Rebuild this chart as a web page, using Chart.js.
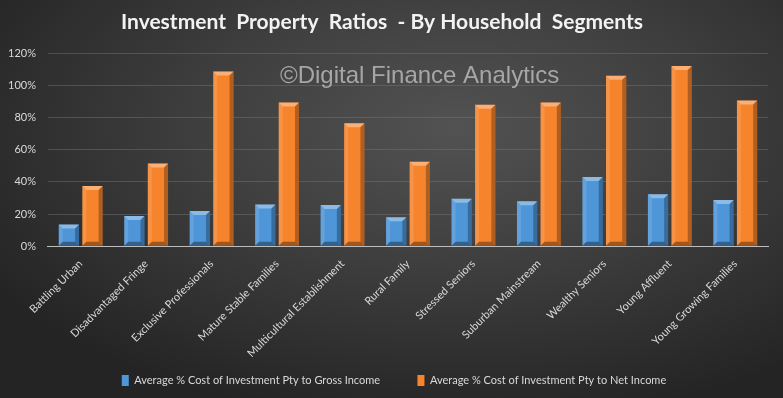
<!DOCTYPE html>
<html>
<head>
<meta charset="utf-8">
<script src="https://cdn.jsdelivr.net/npm/chart.js@4.4.0/dist/chart.umd.min.js"></script>
<style>
  html, body { margin: 0; padding: 0; }
  body {
    width: 783px; height: 398px; overflow: hidden;
    background: radial-gradient(ellipse 70% 75% at 58% 32%, #525252 0%, #3f3f3f 45%, #242424 100%);
  }
  #wrap { position: relative; width: 783px; height: 398px; }
</style>
</head>
<body>
<div id="wrap"><canvas id="ratioChart"></canvas></div>
<script>
// Investment property ratios by household segment

const segments = ['Battling Urban', 'Disadvantaged Fringe', 'Exclusive Professionals',
    'Mature Stable Families', 'Multicultural Establishment', 'Rural Family',
    'Stressed Seniors', 'Suburban Mainstream', 'Wealthy Seniors', 'Young Affluent',
    'Young Growing Families'];

const grossIncome = [13.6, 18.8, 21.9, 26.0, 25.6, 18.0, 29.6, 28.0, 43.0, 32.3, 28.7];
const netIncome = [37.5, 51.5, 108.7, 89.4, 76.5, 52.5, 88.0, 89.4, 106.0, 112.0, 90.6];

const yTicks = [0, 20, 40, 60, 80, 100, 120];

const seriesNames = ['Average % Cost of Investment Pty to Gross Income',
    'Average % Cost of Investment Pty to Net Income'];

// bevel look on each bar, drawn over the library's own bar rectangles
const bevelPlugin = {
    id: 'bevel',
    afterDatasetsDraw(chart) {
        const ctx = chart.ctx;
        chart.data.datasets.forEach(function(ds, i) {
            chart.getDatasetMeta(i).data.forEach(function(bar) {
                const p = bar.getProps(['x', 'y', 'base', 'width'], true);
                const l = p.x - p.width / 2, r = p.x + p.width / 2;
                const t = p.y, b = p.base;
                const e = Math.min(4, p.width / 4);
                ctx.save();
                // top facet
                ctx.fillStyle = 'rgba(255,255,255,0.35)';
                ctx.beginPath();
                ctx.moveTo(l, t); ctx.lineTo(r, t); ctx.lineTo(r - e, t + e); ctx.lineTo(l + e, t + e);
                ctx.closePath(); ctx.fill();
                // left facet
                ctx.fillStyle = 'rgba(255,255,255,0.12)';
                ctx.beginPath();
                ctx.moveTo(l, t); ctx.lineTo(l + e, t + e); ctx.lineTo(l + e, b - e); ctx.lineTo(l, b);
                ctx.closePath(); ctx.fill();
                // right facet
                ctx.fillStyle = 'rgba(0,0,0,0.28)';
                ctx.beginPath();
                ctx.moveTo(r, t); ctx.lineTo(r - e, t + e); ctx.lineTo(r - e, b - e); ctx.lineTo(r, b);
                ctx.closePath(); ctx.fill();
                // bottom facet
                ctx.fillStyle = 'rgba(0,0,0,0.35)';
                ctx.beginPath();
                ctx.moveTo(l, b); ctx.lineTo(r, b); ctx.lineTo(r - e, b - e); ctx.lineTo(l + e, b - e);
                ctx.closePath(); ctx.fill();
                ctx.restore();
            });
        });
    }
};

// watermark text
const watermarkPlugin = {
    id: 'watermark',
    afterDraw(chart) {
        const ctx = chart.ctx;
        ctx.save();
        ctx.font = '24px "Liberation Sans", Arial, sans-serif';
        ctx.fillStyle = 'rgba(190,190,190,0.8)';
        ctx.textBaseline = 'alphabetic';
        ctx.fillText('\u00A9Digital Finance Analytics', 280, 83);
        ctx.restore();
    }
};

// nudge the legend row a little to the right, like the original
const legendShift = {
    id: 'legendShift',
    afterLayout(chart) {
        if (chart.legend) {
            chart.legend.left += 12;
            chart.legend.right += 12;
        }
    }
};

Chart.defaults.font.family = 'Lato, "Open Sans", sans-serif';
Chart.defaults.color = '#d9d9d9';

new Chart(document.getElementById('ratioChart'), {
    type: 'bar',
    data: {
        labels: segments,
        datasets: [{
            label: seriesNames[0],
            data: grossIncome,
            backgroundColor: '#4e96d8',
            borderWidth: 0,
            categoryPercentage: 0.72,
            barPercentage: 0.86
        }, {
            label: seriesNames[1],
            data: netIncome,
            backgroundColor: '#f6842d',
            borderWidth: 0,
            categoryPercentage: 0.72,
            barPercentage: 0.86
        }]
    },
    plugins: [bevelPlugin, watermarkPlugin, legendShift],
    options: {
        responsive: true,
        maintainAspectRatio: false,
        animation: false,
        layout: {
            padding: { left: -4, right: 15, top: 0, bottom: 2 }
        },
        plugins: {
            title: {
                display: true,
                text: 'Investment  Property  Ratios  - By Household  Segments',
                color: '#f2f2f2',
                font: { size: 21, weight: 'bold' },
                padding: { top: 10, bottom: 18 }
            },
            legend: {
                position: 'bottom',
                labels: {
                    color: '#d9d9d9',
                    font: { size: 11 },
                    boxWidth: 7,
                    boxHeight: 11,
                    padding: 12,
                    generateLabels: function(chart) {
                        const items = Chart.defaults.plugins.legend.labels.generateLabels(chart);
                        // widen the gap between the two entries
                        items[0].text = items[0].text + '         ';
                        return items;
                    }
                }
            },
            tooltip: { enabled: false }
        },
        scales: {
            x: {
                grid: { display: false },
                border: { color: '#bdbdbd', width: 1 },
                ticks: {
                    color: '#d9d9d9',
                    font: { size: 11 },
                    minRotation: 45,
                    maxRotation: 45,
                    autoSkip: false
                }
            },
            y: {
                min: 0,
                max: 120,
                afterBuildTicks(axis) {
                    axis.ticks = yTicks.map(function(v) { return { value: v }; });
                },
                grid: { color: 'rgba(120,120,120,0.45)', drawTicks: false },
                border: { display: false },
                ticks: {
                    color: '#d9d9d9',
                    font: { size: 11 },
                    padding: 12,
                    callback: function(v) { return v + '%'; }
                }
            }
        }
    }
});
</script>
</body>
</html>
